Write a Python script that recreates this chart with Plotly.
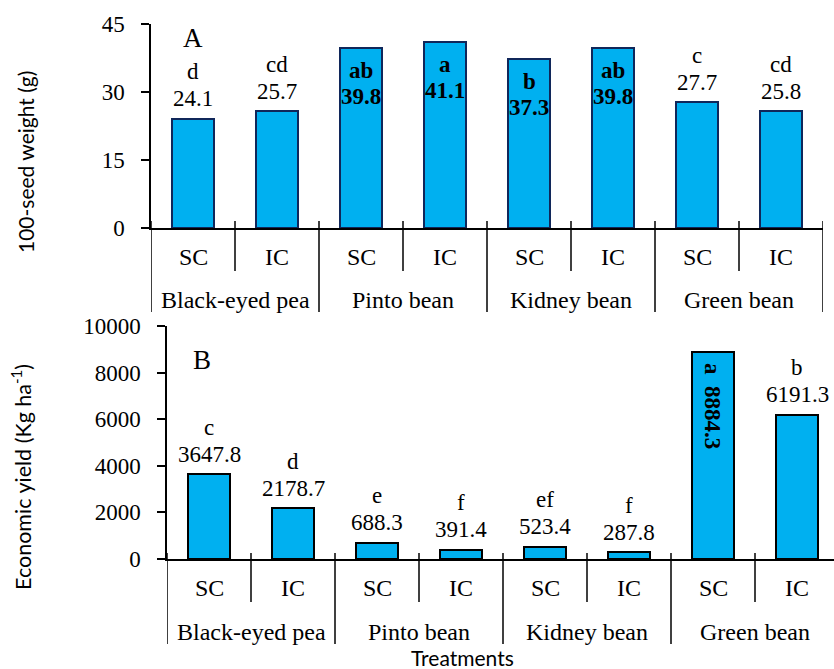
import plotly.graph_objects as go

crops = ["Black-eyed pea", "Pinto bean", "Kidney bean", "Green bean"]
systems = ["SC", "IC"]
seed_weight = [24.1, 25.7, 39.8, 41.1, 37.3, 39.8, 27.7, 25.8]
seed_letters = ["d", "cd", "ab", "a", "b", "ab", "c", "cd"]
seed_inside = [False, False, True, True, True, True, False, False]
yield_vals = [3647.8, 2178.7, 688.3, 391.4, 523.4, 287.8, 8884.3, 6191.3]
yield_letters = ["c", "d", "e", "f", "ef", "f", "a", "b"]
yield_rotated = [False, False, False, False, False, False, True, False]
seed_ticks = [0, 15, 30, 45]
yield_ticks = [0, 2000, 4000, 6000, 8000, 10000]

W, H = 834, 669
SERIF = "Liberation Serif, Times New Roman, serif"
SANS = "Lato, Calibri, sans-serif"
FILL = "#00B0F0"

def px(y):
    return 1 - y / H

labels = [s for c in crops for s in systems]
xs = list(range(len(labels)))

fig = go.Figure()
fig.add_trace(go.Bar(x=xs, y=seed_weight, width=0.49, marker=dict(color=FILL, line=dict(color="#10275a", width=2)),
                     xaxis="x", yaxis="y", showlegend=False, hoverinfo="skip"))
fig.add_trace(go.Bar(x=xs, y=yield_vals, width=0.49, marker=dict(color=FILL, line=dict(color="black", width=2)),
                     xaxis="x2", yaxis="y2", showlegend=False, hoverinfo="skip"))

ann = []
shapes = []

def value_labels(vals, letters, special, xref, yref, rotated=False):
    for i, (v, l, s) in enumerate(zip(vals, letters, special)):
        common = dict(x=i, y=v, xref=xref, yref=yref, showarrow=False, xanchor="center", yanchor="middle",
                      font=dict(family=SERIF, size=23, color="black"))
        if s and not rotated:
            ann.append(dict(text=f"<b>{l}</b>", yshift=-23, **common))
            ann.append(dict(text=f"<b>{v}</b>", yshift=-49, **common))
        elif s and rotated:
            ann.append(dict(text=f"<b>{l}\u00a0\u00a0{v}</b>", yshift=-54, textangle=90, **common))
        else:
            ann.append(dict(text=l, yshift=47, **common))
            ann.append(dict(text=f"{v}", yshift=20, **common))

value_labels(seed_weight, seed_letters, seed_inside, "x", "y")
value_labels(yield_vals, yield_letters, yield_rotated, "x2", "y2", rotated=True)

def category_axis(xref, top, pair_bottom, group_bottom, sys_y, grp_y, groups_edges):
    for i, lab in enumerate(labels):
        ann.append(dict(x=i, y=px(sys_y), xref=xref, yref="paper", text=lab, showarrow=False, xanchor="center",
                        yanchor="middle", font=dict(family=SERIF, size=24, color="black")))
    for g, c in enumerate(crops):
        ann.append(dict(x=2 * g + 0.5, y=px(grp_y), xref=xref, yref="paper", text=c, showarrow=False,
                        xanchor="center", yanchor="middle", font=dict(family=SERIF, size=24, color="black")))
    for g in range(len(crops)):
        xp = 2 * g + 0.5
        shapes.append(dict(type="line", xref=xref, yref="paper", x0=xp, x1=xp, y0=px(top), y1=px(pair_bottom),
                           line=dict(color="black", width=1.5)))
    for xg in groups_edges:
        shapes.append(dict(type="line", xref=xref, yref="paper", x0=xg, x1=xg, y0=px(top), y1=px(group_bottom),
                           line=dict(color="black", width=1.5)))

category_axis("x", 221, 271, 312, 257, 300, [-0.5, 1.5, 3.5, 5.5, 7.5])
category_axis("x2", 553, 602, 644, 588, 632, [-0.5, 1.5, 3.5, 5.5])

def paper_text(x, y, text, family, size, angle=0):
    ann.append(dict(x=x / W, y=px(y), xref="paper", yref="paper", text=text, showarrow=False, textangle=angle,
                    xanchor="center", yanchor="middle", font=dict(family=family, size=size, color="black")))

paper_text(193, 38, "A", SERIF, 27)
paper_text(202, 360, "B", SERIF, 27)
paper_text(25, 162, "100-seed weight (g)", SANS, 21, -90)
paper_text(22, 477, "Economic yield (Kg ha<sup>-1</sup>)", SANS, 21.5, -90)
paper_text(462, 657, "Treatments", SANS, 21)

xcommon = dict(showline=True, linecolor="black", linewidth=1.5, showticklabels=False, ticks="", showgrid=False,
               zeroline=False, automargin=False)
ycommon = dict(showline=True, linecolor="black", linewidth=1.5, ticks="outside", ticklen=8, tickwidth=1.5,
               tickcolor="black", showgrid=False, zeroline=False, ticklabelstandoff=12, automargin=False,
               tickformat="d", tickfont=dict(family=SERIF, size=23, color="black"))

fig.update_layout(
    width=W, height=H, margin=dict(l=0, r=0, t=0, b=0, pad=0), autosize=False,
    paper_bgcolor="white", plot_bgcolor="white",
    xaxis=dict(domain=[151 / W, 823 / W], range=[-0.5, 7.5], anchor="y", **xcommon),
    xaxis2=dict(domain=[167 / W, 1.0], range=[-0.5, -0.5 + 667 / 84], anchor="y2", **xcommon),
    yaxis=dict(domain=[px(228), px(24)], range=[0, 45], tickvals=seed_ticks, anchor="x", **ycommon),
    yaxis2=dict(domain=[px(559), px(326)], range=[0, 10000], tickvals=yield_ticks, anchor="x2", **ycommon),
    annotations=ann, shapes=shapes, bargap=0,
)

fig.write_html("out.html", config={"displayModeBar": False}, post_script="document.body.style.margin='0';")
